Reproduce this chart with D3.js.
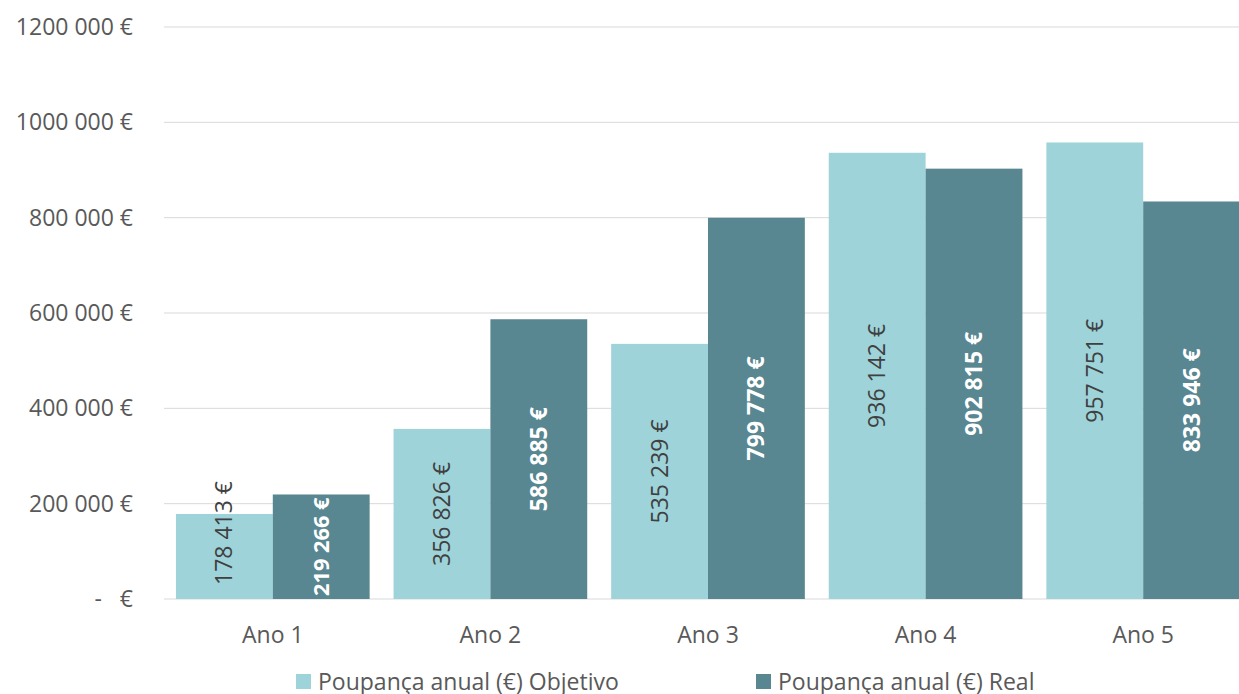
<!DOCTYPE html>
<html>
<head>
<meta charset="utf-8">
<script src="https://cdn.jsdelivr.net/npm/d3@7"></script>
<style>
  body { margin: 0; background: #fff; }
  svg { display: block; font-family: "Open Sans", sans-serif; }
  .tick text, .cat text { fill: #595959; }
</style>
</head>
<body>
<div id="chart"></div>
<script>
// chart data
var categories = ["Ano 1", "Ano 2", "Ano 3", "Ano 4", "Ano 5"];
var objetivo = [178413, 356826, 535239, 936142, 957751];
var real = [219266, 586885, 799778, 902815, 833946];
var seriesNames = ["Poupança anual (€) Objetivo", "Poupança anual (€) Real"];
var yTicks = [0, 200000, 400000, 600000, 800000, 1000000, 1200000];
var yTickLabels = ["-   €", "200 000 €", "400 000 €", "600 000 €", "800 000 €", "1000 000 €", "1200 000 €"];

// setup dimensions
var width = 1239, height = 694,
    plotLeft = 164, plotRight = 1252, plotTop = 27, plotBottom = 599;

var svg = d3.select("#chart").append("svg")
  .attr("width", width)
  .attr("height", height);

// scales
var x = d3.scaleBand()
  .domain(categories)
  .range([plotLeft, plotRight])
  .paddingInner(0.11)
  .paddingOuter(0.055);
var sub = d3.scaleBand()
  .domain([0, 1])
  .range([0, x.bandwidth()]);
var y = d3.scaleLinear()
  .domain([0, 1200000])
  .range([plotBottom, plotTop]);
var colors = ["#9dd3d9", "#588691"];

function fmt(v) {
  return d3.format(",")(v).replace(/,/g, " ") + " €";
}

// gridlines
svg.append("g").selectAll("line")
  .data(yTicks)
  .join("line")
    .attr("x1", plotLeft).attr("x2", width)
    .attr("y1", function(d) { return y(d); })
    .attr("y2", function(d) { return y(d); })
    .attr("stroke", "#d9d9d9")
    .attr("stroke-width", 1);

// y axis labels
var yAxis = svg.append("g")
  .attr("transform", "translate(" + 133 + ",0)")
  .call(d3.axisLeft(y).tickValues(yTicks).tickSize(0).tickPadding(0)
    .tickFormat(function(d, i) { return yTickLabels[i]; }));
yAxis.select(".domain").remove();
yAxis.selectAll("text")
  .attr("font-size", 23)
  .attr("font-family", "Open Sans, sans-serif")
  .style("white-space", "pre");

// bars
var groups = svg.append("g").selectAll("g")
  .data(categories)
  .join("g")
    .attr("transform", function(d) { return "translate(" + x(d) + ",0)"; });

var series = [objetivo, real];
series.forEach(function(vals, s) {
  groups.append("rect")
    .attr("x", sub(s))
    .attr("width", sub.bandwidth())
    .attr("y", function(d, i) { return y(vals[i]); })
    .attr("height", function(d, i) { return plotBottom - y(vals[i]); })
    .attr("fill", colors[s]);
});

// data labels (rotated, centered in bar)
series.forEach(function(vals, s) {
  groups.append("text")
    .attr("text-anchor", "middle")
    .attr("dy", "0.35em")
    .attr("font-size", 23)
    .attr("font-weight", s ? "bold" : "normal")
    .attr("fill", s ? "#ffffff" : "#404040")
    .text(function(d, i) { return fmt(vals[i]); })
    .each(function(d, i) {
      var t = d3.select(this),
          len = this.getComputedTextLength(),
          barH = plotBottom - y(vals[i]);
      var cy = (y(vals[i]) + plotBottom) / 2;
      if (s) {
        // white labels must fit inside their bar
        if (len > barH - 6) {
          t.attr("font-size", 23 * (barH - 6) / len);
        }
      } else {
        // dark labels stay inside the plot
        cy = Math.min(cy, plotBottom - 14 - len / 2);
      }
      t.attr("transform", "translate(" + (sub(s) + sub.bandwidth() / 2) + "," + cy + ") rotate(-90)");
    });
});

// category labels
svg.append("g").attr("class", "cat").selectAll("text")
  .data(categories)
  .join("text")
    .attr("x", function(d) { return x(d) + x.bandwidth() / 2; })
    .attr("y", 643)
    .attr("text-anchor", "middle")
    .attr("font-size", 23)
    .text(function(d) { return d; });

// legend
var legendX = [296, 756];
var legend = svg.append("g").selectAll("g")
  .data(seriesNames)
  .join("g")
    .attr("transform", function(d, i) { return "translate(" + legendX[i] + ",674)"; });
legend.append("rect")
  .attr("width", 15).attr("height", 15)
  .attr("fill", function(d, i) { return colors[i]; });
legend.append("text")
  .attr("x", 22).attr("y", 16)
  .attr("font-size", 23)
  .attr("fill", "#595959")
  .text(function(d) { return d; });
</script>
</body>
</html>
